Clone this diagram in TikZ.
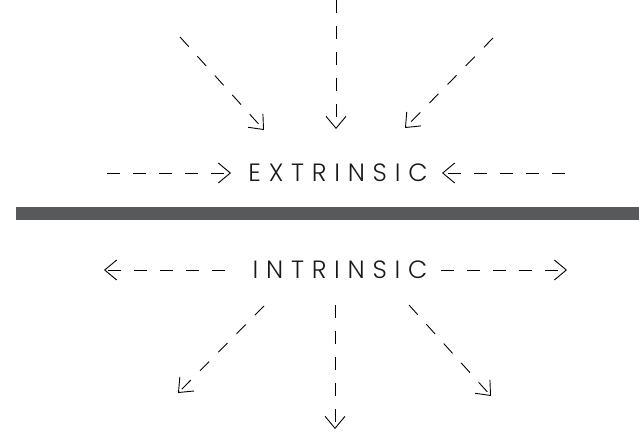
\documentclass[tikz,border=0pt]{standalone}
\usepackage{fontspec}
\setmainfont{Poppins}[UprightFont=* Light]
\usetikzlibrary{arrows.meta}
\definecolor{bargray}{HTML}{58595B}
\tikzstyle{word}=[inner sep=0pt,font=\addfontfeatures{LetterSpace=31}\fontsize{25}{29}\selectfont,text=black!90]
\tikzstyle{darr}=[-{Straight Barb[length=12pt,width=20pt]},line width=0.9pt,dash pattern=on 13pt off 13pt]

\begin{document}
\begin{tikzpicture}[x=1pt,y=-1pt]
\useasboundingbox (0,0) rectangle (639,433);
\fill[bargray] (16,207) rectangle (639,220);
% labels
\node[word] (extr) at (338,173) {EXTRINSIC};
\node[word] (intr) at (340,270) {INTRINSIC};
% ends of the outer arrows
\coordinate (tl) at (180,37);   \coordinate (tlh) at (264,130);
\coordinate (tc) at (336,0);    \coordinate (tch) at (336,129);
\coordinate (tr) at (493,38);   \coordinate (trh) at (405,128);
\coordinate (el) at (107,173);  \coordinate (elh) at (231,173);
\coordinate (er) at (565,173);  \coordinate (erh) at (442,173);
\coordinate (il) at (225,270);  \coordinate (ilh) at (104,270);
\coordinate (ir) at (441,270);  \coordinate (irh) at (567,270);
\coordinate (bl) at (264,306);  \coordinate (blh) at (178,393);
\coordinate (bc) at (335,305);  \coordinate (bch) at (335,429);
\coordinate (br) at (409,305);  \coordinate (brh) at (491,396);
\draw[darr] (tl) -- (tlh);
\draw[darr] (tc) -- (tch);
\draw[darr] (tr) -- (trh);
\draw[darr] (el) -- (elh);
\draw[darr] (er) -- (erh);
\draw[darr] (il) -- (ilh);
\draw[darr] (ir) -- (irh);
\draw[darr] (bl) -- (blh);
\draw[darr] (bc) -- (bch);
\draw[darr] (br) -- (brh);
\end{tikzpicture}
\end{document}
